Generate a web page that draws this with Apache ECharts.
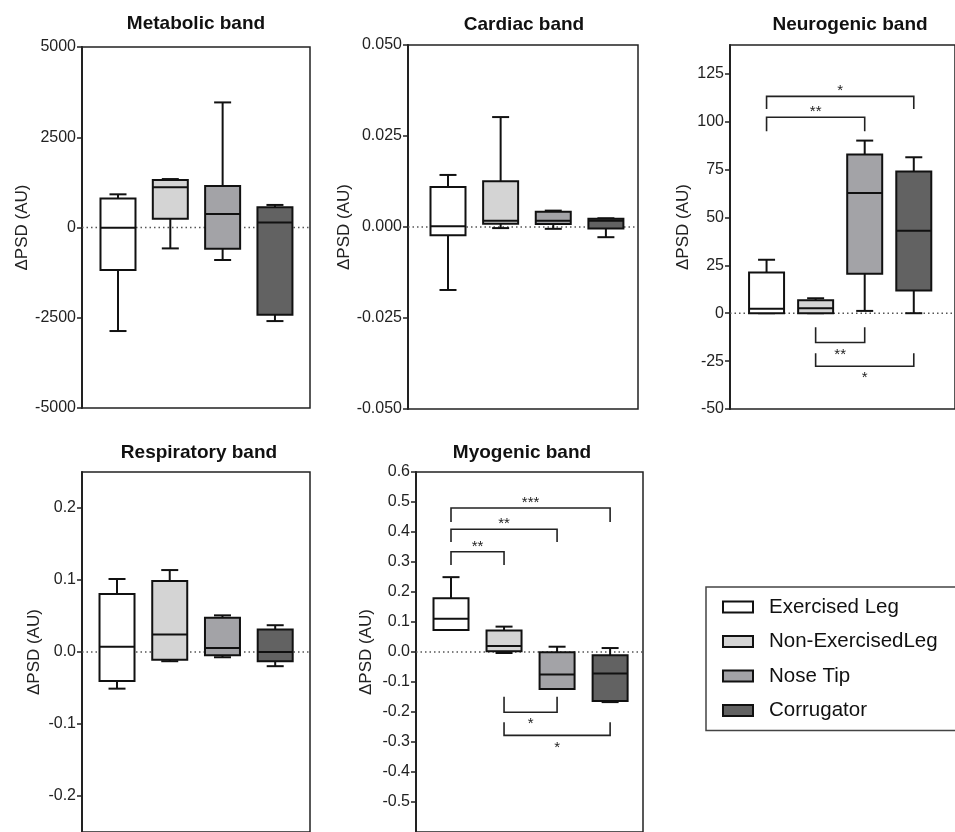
<!DOCTYPE html>
<html>
<head>
<meta charset="utf-8">
<script src="https://cdn.jsdelivr.net/npm/echarts@6/dist/echarts.min.js"></script>
<style>html,body{margin:0;padding:0;background:#fff}#c{width:955px;height:832px}</style>
</head>
<body>
<div id="c"></div>
<script>
// ---- data ----
const groups = ['Exercised Leg', 'Non-ExercisedLeg', 'Nose Tip', 'Corrugator'];
const panelTitles = ['Metabolic band', 'Cardiac band', 'Neurogenic band', 'Respiratory band', 'Myogenic band'];
const yAxisTitle = 'ΔPSD (AU)';
// each box: [min, q1, median, q3, max]
const metabolicBoxes = [
  [-2868, -1176, -9, 800, 919],
  [-579, 239, 1112, 1314, 1342],
  [-901, -588, 377, 1149, 3465],
  [-2592, -2417, 138, 561, 625]
];
const cardiacBoxes = [
  [-0.0173, -0.0023, 0.0002, 0.0110, 0.0143],
  [-0.0003, 0.0009, 0.0017, 0.0126, 0.0302],
  [-0.0005, 0.0008, 0.0017, 0.0042, 0.0045],
  [-0.0028, -0.0004, 0.0017, 0.0023, 0.0024]
];
const neurogenicBoxes = [
  [0, 0, 2.3, 21.3, 27.9],
  [0, 0, 2.6, 6.8, 7.8],
  [1.2, 20.6, 62.7, 82.8, 90.1],
  [0, 11.8, 43.0, 74.0, 81.4]
];
const respiratoryBoxes = [
  [-0.0509, -0.0404, 0.0073, 0.0807, 0.1014],
  [-0.0128, -0.0106, 0.0243, 0.0986, 0.1138],
  [-0.0073, -0.0046, 0.0055, 0.0477, 0.0509],
  [-0.0197, -0.0128, 0.0, 0.0312, 0.0372]
];
const myogenicBoxes = [
  [0.0736, 0.0736, 0.111, 0.179, 0.2495],
  [-0.0033, 0.0022, 0.0198, 0.0714, 0.0846],
  [-0.123, -0.123, -0.0747, -0.001, 0.0176],
  [-0.167, -0.163, -0.0714, -0.011, 0.0132]
];
// brackets: [fromGroup, toGroup, barValue, legEndValue]
const neurogenicBrackets = [[0, 3, 113.2, 106.6], [0, 2, 102.3, 95.0], [1, 2, -15.3, -7.3], [1, 3, -27.7, -20.9]];
const neurogenicStars = ['*', '**', '**', '*'];
const myogenicBrackets = [[0, 3, 0.480, 0.433], [0, 2, 0.409, 0.367], [0, 1, 0.334, 0.290], [1, 2, -0.201, -0.149], [1, 3, -0.278, -0.234]];
const myogenicStars = ['***', '**', '**', '*', '*'];
// y-axis tick labels
const metabolicTicks = [-5000, -2500, 0, 2500, 5000];
const cardiacTicks = [-0.05, -0.025, 0, 0.025, 0.05];
const neurogenicTicks = [-50, -25, 0, 25, 50, 75, 100, 125];
const respiratoryTicks = [-0.2, -0.1, 0, 0.1, 0.2];
const myogenicTicks = [-0.5, -0.4, -0.3, -0.2, -0.1, 0, 0.1, 0.2, 0.3, 0.4, 0.5, 0.6];

// ---- styling / layout ----
const FONT = 'Liberation Sans, Arial, Helvetica, sans-serif';
const fills = ['#ffffff', '#d4d4d4', '#a3a3a7', '#626262'];
const panels = [
  {boxes: metabolicBoxes, ticks: metabolicTicks, min: -5000, max: 5000, dec: 0,
   grid: {left: 82, top: 47, width: 228, height: 361}, x: [-0.688, 3.67], nameGap: 48, tx: 196, ty: 24},
  {boxes: cardiacBoxes, ticks: cardiacTicks, min: -0.05, max: 0.05, dec: 3,
   grid: {left: 408, top: 45, width: 230, height: 364}, x: [-0.76, 3.61], nameGap: 46, tx: 524, ty: 25},
  {boxes: neurogenicBoxes, ticks: neurogenicTicks, min: -50, max: 140, dec: 0,
   grid: {left: 730, top: 45, width: 240, height: 364}, x: [-0.745, 3.84], nameGap: 38, tx: 850, ty: 25,
   brackets: neurogenicBrackets, stars: neurogenicStars},
  {boxes: respiratoryBoxes, ticks: respiratoryTicks, min: -0.25, max: 0.25, dec: 1,
   grid: {left: 82, top: 472, width: 228, height: 364}, x: [-0.664, 3.66], nameGap: 39, tx: 199, ty: 453},
  {boxes: myogenicBoxes, ticks: myogenicTicks, min: -0.6, max: 0.6, dec: 1,
   grid: {left: 416, top: 472, width: 227, height: 364}, x: [-0.66, 3.62], nameGap: 41, tx: 522, ty: 453,
   brackets: myogenicBrackets, stars: myogenicStars}
];

function boxRender(params, api) {
  const x = api.value(0);
  const pMin = api.coord([x, api.value(1)]);
  const cx = pMin[0];
  const yMin = pMin[1];
  const yQ1 = api.coord([x, api.value(2)])[1];
  const yMed = api.coord([x, api.value(3)])[1];
  const yQ3 = api.coord([x, api.value(4)])[1];
  const yMax = api.coord([x, api.value(5)])[1];
  const hw = 17.5, cw = 8.5;
  const ls = {stroke: '#111', lineWidth: 2, fill: null};
  return {type: 'group', children: [
    {type: 'line', shape: {x1: cx, y1: yQ3, x2: cx, y2: yMax}, style: ls},
    {type: 'line', shape: {x1: cx - cw, y1: yMax, x2: cx + cw, y2: yMax}, style: ls},
    {type: 'line', shape: {x1: cx, y1: yQ1, x2: cx, y2: yMin}, style: ls},
    {type: 'line', shape: {x1: cx - cw, y1: yMin, x2: cx + cw, y2: yMin}, style: ls},
    {type: 'rect', shape: {x: cx - hw, y: yQ3, width: 2 * hw, height: yQ1 - yQ3},
     style: {fill: api.visual('color'), stroke: '#111', lineWidth: 2}},
    {type: 'line', shape: {x1: cx - hw, y1: yMed, x2: cx + hw, y2: yMed}, style: ls}
  ]};
}

function zeroRender(params, api) {
  const cs = params.coordSys;
  const y = api.coord([0, api.value(0)])[1];
  return {type: 'line', shape: {x1: cs.x, y1: y, x2: cs.x + cs.width, y2: y},
    style: {stroke: '#555', lineWidth: 1.5, lineDash: [1.5, 3]}};
}

function makeBracketRender(stars) {
  return function (params, api) {
    const a = api.value(0), b = api.value(1), bar = api.value(2), leg = api.value(3);
    const p1 = api.coord([a, bar]);
    const p2 = api.coord([b, bar]);
    const l = api.coord([a, leg])[1];
    const up = leg < bar;
    return {type: 'group', children: [
      {type: 'polyline', shape: {points: [[p1[0], l], p1, p2, [p2[0], l]]},
       style: {stroke: '#222', lineWidth: 1.6, fill: null}},
      {type: 'text', x: (p1[0] + p2[0]) / 2, y: up ? p1[1] - 5 : p1[1] + 12,
       style: {text: stars[params.dataIndex], align: 'center', verticalAlign: 'middle',
         font: '15px ' + FONT, fill: '#222'}}
    ]};
  };
}

const grids = [], xAxes = [], yAxes = [], series = [], graphics = [];
panels.forEach((p, gi) => {
  grids.push(Object.assign({show: true, borderColor: '#222', borderWidth: 1.5, backgroundColor: 'transparent'}, p.grid));
  xAxes.push({gridIndex: gi, type: 'value', min: p.x[0], max: p.x[1], show: false});
  yAxes.push({
    gridIndex: gi, type: 'value', min: p.min, max: p.max, position: 'left',
    name: yAxisTitle, nameLocation: 'middle', nameRotate: 90, nameGap: p.nameGap,
    nameTextStyle: {fontSize: 17, color: '#222', fontFamily: FONT},
    axisLine: {show: true, onZero: false, lineStyle: {color: '#222', width: 2}},
    axisTick: {show: true, length: 5, lineStyle: {color: '#222', width: 1.5}, customValues: p.ticks},
    axisLabel: {show: true, fontSize: 16, color: '#222', fontFamily: FONT, margin: 6,
      customValues: p.ticks,
      formatter: v => (Math.abs(v) < 1e-12 ? 0 : v).toFixed(p.dec)},
    splitLine: {show: false}
  });
  series.push({type: 'custom', xAxisIndex: gi, yAxisIndex: gi, z: 1, silent: true,
    renderItem: zeroRender, data: [[0]]});
  p.boxes.forEach((b, i) => {
    series.push({type: 'custom', name: groups[i], xAxisIndex: gi, yAxisIndex: gi, z: 3,
      itemStyle: {color: fills[i]}, renderItem: boxRender,
      encode: {x: 0, y: [1, 2, 3, 4, 5]},
      data: [[i].concat(b)]});
  });
  if (p.brackets) {
    series.push({type: 'custom', xAxisIndex: gi, yAxisIndex: gi, z: 4, silent: true,
      renderItem: makeBracketRender(p.stars), encode: {x: [0, 1], y: [2, 3]},
      data: p.brackets});
  }
  graphics.push({type: 'text', x: p.tx, y: p.ty,
    style: {text: panelTitles[gi], align: 'center', verticalAlign: 'middle',
      font: 'bold 19px ' + FONT, fill: '#111'}});
});

const chart = echarts.init(document.getElementById('c'), null, {renderer: 'canvas'});
chart.setOption({
  animation: false,
  textStyle: {fontFamily: FONT},
  grid: grids, xAxis: xAxes, yAxis: yAxes, series: series, graphic: graphics,
  legend: {
    orient: 'vertical', left: 706, top: 587,
    padding: [9, 40, 9, 16], itemGap: 12.5, itemWidth: 30, itemHeight: 11,
    borderColor: '#444', borderWidth: 1.5, selectedMode: false,
    textStyle: {fontSize: 20.5, color: '#111', fontFamily: FONT, lineHeight: 22, padding: [0, 0, 0, 11]},
    data: groups.map((g, i) => ({name: g, icon: 'rect',
      itemStyle: {color: fills[i], borderColor: '#111', borderWidth: 2}}))
  }
});
</script>
</body>
</html>
